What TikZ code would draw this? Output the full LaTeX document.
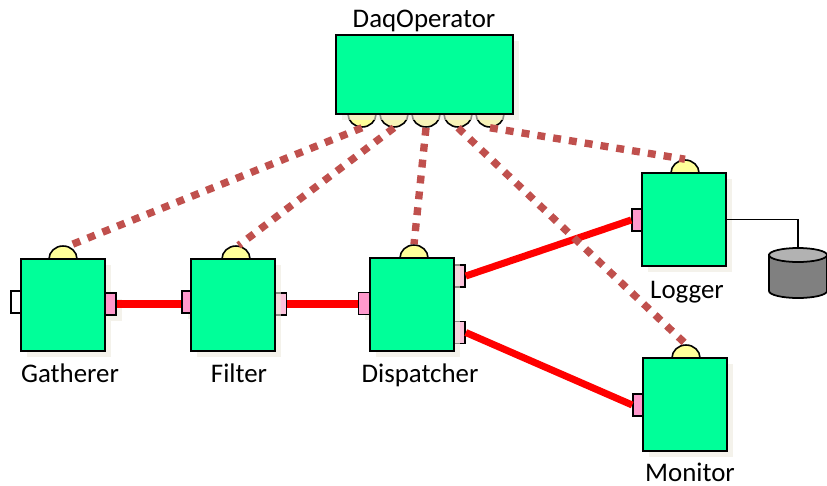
\documentclass[tikz,border=0pt]{standalone}
\usepackage{fontspec}
\setmainfont{Carlito}
\usepackage{tikz}
\usetikzlibrary{shadows}
\definecolor{boxgreen}{HTML}{00FF99}
\definecolor{lobeyellow}{HTML}{FFFF99}
\definecolor{lobepale}{HTML}{F7F3B8}
\definecolor{portpink}{HTML}{FF99CC}
\definecolor{portpale}{HTML}{FBC3DC}
\definecolor{linkbrown}{HTML}{C0504D}
\definecolor{shadowbeige}{HTML}{EDE9DD}
\tikzset{softshadow/.style={drop shadow={shadow xshift=0.12cm,shadow yshift=-0.12cm,fill=shadowbeige,opacity=0.6}}}
\tikzset{compbox/.style={rectangle,draw=black,line width=0.9pt,fill=boxgreen,inner sep=0pt,minimum width=1.68cm,minimum height=1.85cm,softshadow}}
\tikzset{lobe/.style={circle,draw=black,line width=0.9pt,fill=lobeyellow,inner sep=0pt,minimum size=0.52cm,xscale=1.08}}
\tikzset{portbox/.style={rectangle,draw=black,line width=0.9pt,fill=portpink,inner sep=0pt,minimum width=0.22cm,minimum height=0.44cm}}
\tikzset{datalink/.style={draw=red,line width=4pt}}
\tikzset{ctrllink/.style={draw=linkbrown,line width=4.2pt,dash pattern=on 4.5pt off 4.6pt}}
\tikzset{lab/.style={anchor=base,inner sep=0pt,font=\fontsize{15.3pt}{18pt}\selectfont}}

\begin{document}
\begin{tikzpicture}
[x=0.02cm,y=-0.02cm]
\useasboundingbox (0,0) rectangle (827,486);

% lobes and most ports go under the boxes
\node (dlobea) at (362,114)[lobe]{};
\node (dlobeb) at (394,114)[lobe,fill=lobepale]{};
\node (dlobec) at (426,114)[lobe,fill=lobepale]{};
\node (dlobed) at (458,114)[lobe,fill=lobepale]{};
\node (dlobee) at (490,114)[lobe,fill=lobepale]{};
\node (globe) at (63,259)[lobe]{};
\node (flobe) at (236,259)[lobe]{};
\node (slobe) at (414,258)[lobe]{};
\node (llobe) at (685,173)[lobe]{};
\node (mlobe) at (686,358)[lobe]{};

\node (gin) at (16,302)[portbox,fill=white,minimum width=0.2cm]{};
\node (fin) at (186.5,302)[portbox,minimum width=0.18cm,softshadow]{};
\node (fout) at (281,304)[portbox,fill=portpale]{};
\node (din) at (364,303.5)[portbox,softshadow]{};
\node (douta) at (459.5,276)[portbox,fill=portpale]{};
\node (doutb) at (459.5,332.5)[portbox,fill=portpale]{};
\node (lin) at (637,220)[portbox,minimum width=0.2cm]{};
\node (min) at (638,405)[portbox,minimum width=0.2cm]{};

% components
\node (daq) at (424.5,74.5)[compbox,minimum width=3.54cm,minimum height=1.58cm]{};
\node (gath) at (63,305)[compbox]{};
\node (filt) at (233,305)[compbox]{};
\node (disp) at (412,304.5)[compbox]{};
\node (logg) at (684,219.5)[compbox]{};
\node (moni) at (685,404.5)[compbox]{};
\node (gout) at (110.5,304)[portbox,softshadow]{};

% storage
\coordinate (store) at (798,248);
\draw[black,line width=1pt] (logg.east) -| (store);
\draw[draw=black,line width=1pt,fill=black!50] (769,255) -- (769,291) arc[start angle=180,end angle=0,x radius=29,y radius=7] -- (827,255) -- cycle;
\draw[draw=black,line width=1pt,fill=black!30] (798,255) ellipse[x radius=29,y radius=7];

% data links
\draw[datalink] (gout.east) -- (gout.east -| fin.west);
\draw[datalink] (fout.east) -- (fout.east -| din.west);
\draw[datalink] (douta.east) -- (lin.west);
\draw[datalink] (doutb.east) -- (min.west);

% control links
\draw[ctrllink] (dlobea.south) -- (globe.70);
\draw[ctrllink] (dlobeb.south) -- (flobe.80);
\draw[ctrllink] (dlobec.south) -- (slobe.north);
\draw[ctrllink] (dlobed.south) -- (mlobe.north);
\draw[ctrllink] (dlobee.south) -- (llobe.north);

% labels
\node (dtext) at (424,28)[lab]{DaqOperator};
\node (gtext) at (70,382)[lab]{Gatherer};
\node (ftext) at (239,382)[lab]{Filter};
\node (stext) at (420,382)[lab]{Dispatcher};
\node (ltext) at (687,298)[lab]{Logger};
\node (mtext) at (690,481)[lab]{Monitor};
\end{tikzpicture}
\end{document}
